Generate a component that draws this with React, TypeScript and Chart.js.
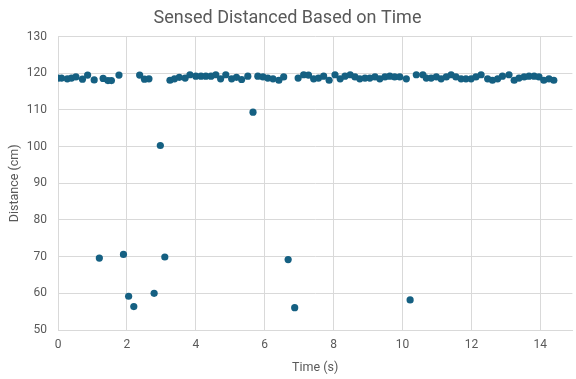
import React, { useEffect, useRef } from "react";
import { Chart, registerables } from "chart.js";

Chart.register(...registerables);

const timeSeconds = [
  0, 0.1, 0.27, 0.39, 0.52, 0.71, 0.86, 1.05, 1.2, 1.31, 1.45, 1.55, 1.77, 1.9, 2.05, 2.2, 2.37, 2.51, 2.64, 2.79,
  2.97, 3.1, 3.25, 3.38, 3.52, 3.69, 3.83, 4.0, 4.15, 4.29, 4.44, 4.58, 4.72, 4.87, 5.04, 5.18, 5.33, 5.51, 5.66,
  5.8, 5.95, 6.09, 6.24, 6.41, 6.55, 6.68, 6.87, 6.97, 7.13, 7.27, 7.42, 7.56, 7.71, 7.87, 8.04, 8.19, 8.33, 8.48,
  8.62, 8.76, 8.91, 9.05, 9.2, 9.34, 9.49, 9.63, 9.77, 9.92, 10.11, 10.22, 10.4, 10.59, 10.69, 10.83, 10.98, 11.12,
  11.27, 11.41, 11.55, 11.7, 11.84, 11.99, 12.13, 12.28, 12.47, 12.61, 12.76, 12.9, 13.09, 13.24, 13.38, 13.53,
  13.67, 13.82, 13.96, 14.1, 14.25, 14.39,
];

const distanceCm = [
  118.7, 118.7, 118.5, 118.7, 119.0, 118.4, 119.5, 118.2, 69.6, 118.6, 118.0, 118.0, 119.5, 70.6, 59.2, 56.4, 119.5,
  118.4, 118.5, 60.0, 100.3, 69.9, 118.1, 118.5, 118.9, 118.7, 119.6, 119.2, 119.2, 119.2, 119.2, 119.6, 118.5,
  119.6, 118.5, 118.9, 118.3, 119.2, 109.4, 119.2, 119.0, 118.7, 118.5, 118.1, 119.0, 69.2, 56.1, 118.7, 119.6,
  119.5, 118.5, 118.7, 119.2, 118.1, 119.6, 118.5, 119.2, 119.6, 119.0, 118.5, 118.7, 118.7, 119.0, 118.5, 119.0,
  119.2, 119.0, 119.0, 118.5, 58.2, 119.6, 119.6, 118.7, 118.7, 119.0, 118.5, 119.0, 119.6, 119.0, 118.5, 118.5,
  118.5, 119.0, 119.6, 118.5, 118.1, 118.5, 119.2, 119.6, 118.1, 118.7, 119.0, 119.2, 119.2, 119.0, 118.1, 118.5,
  118.1,
];

const xTicks = [0, 2, 4, 6, 8, 10, 12, 14];
const yTicks = [50, 60, 70, 80, 90, 100, 110, 120, 130];

const TITLE = "Sensed Distanced Based on Time";
const X_TITLE = "Time (s)";
const Y_TITLE = "Distance (cm)";

const FONT = "Roboto, 'Noto Sans', sans-serif";
const TEXT = "#595959";
const GRID = "#d9d9d9";
const MARK = "#156082";

export default function App() {
  const ref = useRef<HTMLCanvasElement | null>(null);

  useEffect(() => {
    document.body.style.margin = "0";
    const canvas = ref.current;
    if (!canvas) return;
    const points = timeSeconds.map((t, i) => ({ x: t, y: distanceCm[i] }));
    const chart = new Chart(canvas, {
      type: "scatter",
      data: {
        datasets: [
          {
            data: points,
            backgroundColor: MARK,
            borderColor: MARK,
            borderWidth: 0,
            pointRadius: 3.6,
            pointHoverRadius: 3.6,
          },
        ],
      },
      options: {
        animation: false,
        responsive: false,
        maintainAspectRatio: false,
        layout: { padding: { left: 0, right: 1, top: 0, bottom: 0 } },
        plugins: {
          legend: { display: false },
          tooltip: { enabled: false },
          title: {
            display: true,
            text: TITLE,
            color: TEXT,
            font: { family: FONT, size: 18, weight: "normal" },
            padding: { top: 8, bottom: 7 },
          },
        },
        scales: {
          x: {
            type: "linear",
            min: 0,
            max: 14.93,
            afterBuildTicks: (scale: any) => {
              scale.ticks = xTicks.map((v) => ({ value: v }));
            },
            afterFit: (scale: any) => {
              scale.height = 49;
            },
            grid: { color: GRID, drawTicks: false, lineWidth: 1 },
            border: { color: GRID },
            ticks: {
              color: TEXT,
              font: { family: FONT, size: 12 },
              padding: 8,
              maxRotation: 0,
            },
            title: {
              display: true,
              text: X_TITLE,
              color: TEXT,
              font: { family: FONT, size: 12.5 },
              padding: { top: 0, bottom: 4 },
            },
          },
          y: {
            type: "linear",
            min: 50,
            max: 130,
            afterBuildTicks: (scale: any) => {
              scale.ticks = yTicks.map((v) => ({ value: v }));
            },
            afterFit: (scale: any) => {
              scale.width = 58;
            },
            grid: { color: GRID, drawTicks: false, lineWidth: 1 },
            border: { color: GRID },
            ticks: {
              color: TEXT,
              font: { family: FONT, size: 12 },
              padding: 11,
            },
            title: {
              display: true,
              text: Y_TITLE,
              color: TEXT,
              font: { family: FONT, size: 12.5 },
              padding: { top: 7, bottom: 0 },
            },
          },
        },
      },
    });
    return () => chart.destroy();
  }, []);

  return (
    <div style={{ width: 576, height: 379 }}>
      <canvas ref={ref} width={576} height={379} style={{ display: "block" }} />
    </div>
  );
}
